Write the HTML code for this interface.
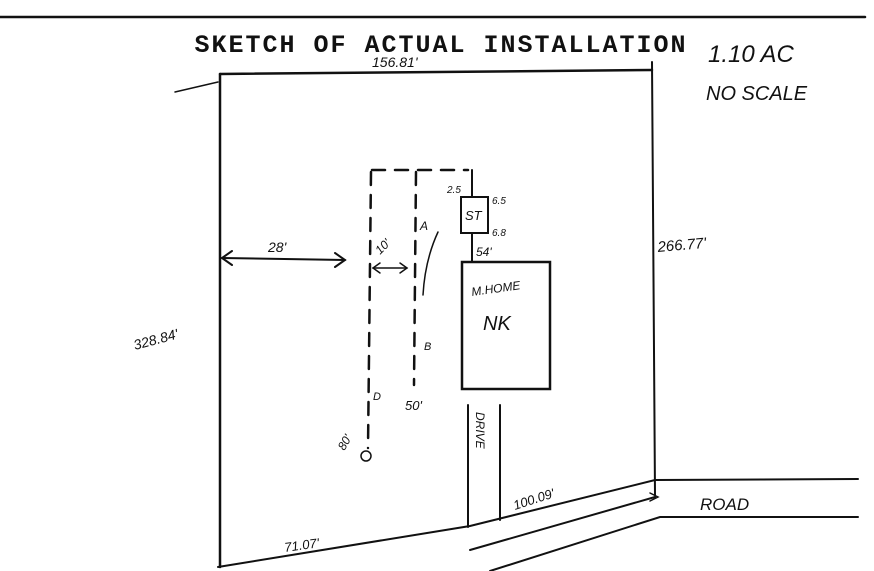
<!DOCTYPE html>
<html><head><meta charset="utf-8"><style>
html,body{margin:0;padding:0;background:#fff;width:874px;height:571px;overflow:hidden}
svg{display:block}
.h{font-family:"Liberation Sans",sans-serif;fill:#111;font-style:italic}
</style></head><body>
<svg width="874" height="571" viewBox="0 0 874 571" xmlns="http://www.w3.org/2000/svg" stroke="#111" fill="none" stroke-linecap="round">
<line x1="0" y1="17" x2="865" y2="17" stroke-width="2.5"/>
<text x="441" y="52" text-anchor="middle" stroke="none" fill="#111" font-family="Liberation Mono,monospace" font-weight="bold" font-size="25" letter-spacing="2">SKETCH OF ACTUAL INSTALLATION</text>
<text x="708" y="62" class="h" stroke="none" font-size="24">1.10 AC</text>
<text x="706" y="100" class="h" stroke="none" font-size="20">NO SCALE</text>
<text x="372" y="67" class="h" stroke="none" font-size="14">156.81'</text>
<!-- lot -->
<line x1="220" y1="74" x2="652" y2="70" stroke-width="2.5"/>
<line x1="220" y1="74" x2="220" y2="567" stroke-width="2.5"/>
<line x1="652" y1="62" x2="655" y2="495" stroke-width="2"/>
<line x1="175" y1="92" x2="218" y2="82" stroke-width="1.5"/>
<polyline points="218,567 470,526 655,480 858,479" stroke-width="2"/>
<polyline points="470,550 655,497" stroke-width="2"/>
<polyline points="490,571 660,517 858,517" stroke-width="2"/>
<polyline points="650,493 658,497 650,501" stroke-width="1.5"/>
<text x="700" y="510" class="h" stroke="none" font-size="17">ROAD</text>
<text x="515" y="510" class="h" stroke="none" font-size="13" transform="rotate(-18 515 510)">100.09'</text>
<text x="285" y="552" class="h" stroke="none" font-size="13" transform="rotate(-8 285 552)">71.07'</text>
<text x="658" y="252" class="h" stroke="none" font-size="15" transform="rotate(-5 658 252)">266.77'</text>
<text x="135" y="350" class="h" stroke="none" font-size="14" transform="rotate(-15 135 350)">328.84'</text>
<!-- 28' arrow -->
<line x1="222" y1="258" x2="345" y2="260" stroke-width="2"/>
<polyline points="232,251 222,258 232,265" stroke-width="2"/>
<polyline points="335,253 345,260 335,267" stroke-width="2"/>
<text x="268" y="252" class="h" stroke="none" font-size="14">28'</text>
<!-- dashed field -->
<g stroke-width="2.5" stroke-dasharray="13,10">
<line x1="372" y1="170" x2="468" y2="170"/>
<line x1="371" y1="172" x2="368" y2="448"/>
<line x1="416" y1="172" x2="414" y2="385"/>
</g>
<line x1="472" y1="170" x2="472" y2="197" stroke-width="2"/>
<line x1="373" y1="268" x2="407" y2="268" stroke-width="1.5"/>
<polyline points="380,263 373,268 380,273" stroke-width="1.5"/>
<polyline points="400,263 407,268 400,273" stroke-width="1.5"/>
<text x="380" y="255" class="h" stroke="none" font-size="12" transform="rotate(-45 380 255)">10'</text>
<path d="M438 232 Q425 260 423 295" stroke-width="1.5"/>
<text x="420" y="230" class="h" stroke="none" font-size="12">A</text>
<text x="424" y="350" class="h" stroke="none" font-size="11">B</text>
<text x="373" y="400" class="h" stroke="none" font-size="11">D</text>
<text x="405" y="410" class="h" stroke="none" font-size="13">50'</text>
<text x="335" y="445" class="h" stroke="none" font-size="12" transform="rotate(-60 345 440)">80'</text>
<circle cx="366" cy="456" r="5" stroke-width="1.5"/>
<!-- ST -->
<rect x="461" y="197" width="27" height="36" stroke-width="2"/>
<text x="465" y="220" class="h" stroke="none" font-size="13">ST</text>
<text x="447" y="193" class="h" stroke="none" font-size="10">2.5</text>
<text x="492" y="204" class="h" stroke="none" font-size="10">6.5</text>
<text x="492" y="236" class="h" stroke="none" font-size="10">6.8</text>
<line x1="472" y1="233" x2="472" y2="262" stroke-width="2"/>
<text x="476" y="256" class="h" stroke="none" font-size="12">54'</text>
<!-- home -->
<rect x="462" y="262" width="88" height="127" stroke-width="2.5"/>
<text x="472" y="296" class="h" stroke="none" font-size="12" transform="rotate(-8 472 296)">M.HOME</text>
<text x="483" y="330" class="h" stroke="none" font-size="20">NK</text>
<!-- drive -->
<line x1="468" y1="405" x2="468" y2="527" stroke-width="2"/>
<line x1="500" y1="405" x2="500" y2="520" stroke-width="2"/>
<text x="476" y="412" class="h" stroke="none" font-size="12" transform="rotate(90 476 412)">DRIVE</text>
</svg>
</body></html>
